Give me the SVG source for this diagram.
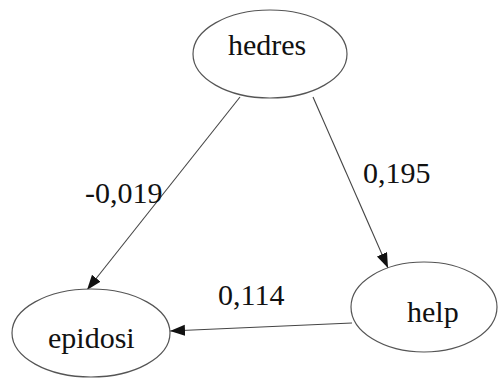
<svg xmlns="http://www.w3.org/2000/svg" width="498" height="380" viewBox="0 0 498 380">
<style>
.node ellipse{fill:#fff;stroke:#555;stroke-width:1.2}
text{font-family:'Liberation Serif','DejaVu Serif',serif;font-size:30px;fill:#111}
.edge{stroke:#444;stroke-width:1.1;fill:none;marker-end:url(#arr)}
</style>
<defs>
<marker id="arr" markerUnits="userSpaceOnUse" markerWidth="16" markerHeight="12" refX="15" refY="5.5" orient="auto">
<path d="M0,0 L15,5.5 L0,11 z" fill="#111"/>
</marker>
</defs>
<rect width="498" height="380" fill="#fff"/>
<g id="connectors">
<line class="edge" x1="240" y1="97" x2="87" y2="290"/>
<line class="edge" x1="313" y1="97" x2="388" y2="268"/>
<line class="edge" x1="352" y1="323" x2="170" y2="331"/>
<text x="85" y="203" font-family="Liberation Serif, serif">-0,019</text>
<text x="363" y="183" font-family="Liberation Serif, serif">0,195</text>
<text x="218" y="305" font-family="Liberation Serif, serif">0,114</text>
</g>
<g id="hedres" class="node">
<ellipse cx="270" cy="54" rx="77" ry="44"/>
<text x="228" y="55" font-family="Liberation Serif, serif">hedres</text>
</g>
<g id="epidosi" class="node">
<ellipse cx="91" cy="333" rx="79" ry="44"/>
<text x="48" y="348" font-family="Liberation Serif, serif">epidosi</text>
</g>
<g id="help" class="node">
<ellipse cx="424" cy="307" rx="73" ry="45"/>
<text x="407" y="322" font-family="Liberation Serif, serif">help</text>
</g>
</svg>
